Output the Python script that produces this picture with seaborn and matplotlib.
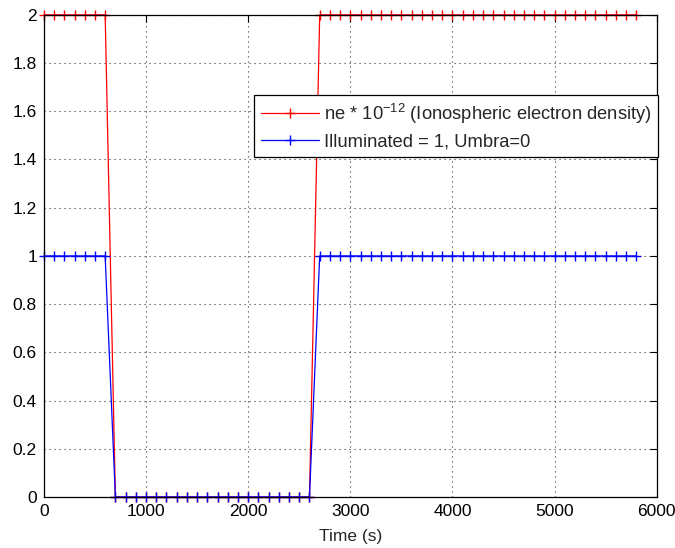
import numpy as np
import pandas as pd
import matplotlib
matplotlib.use("Agg")
import matplotlib.pyplot as plt
import seaborn as sns
from matplotlib.ticker import FuncFormatter

# data (time in seconds)
time_s = list(range(0, 5900, 100))
ne_scaled = [2]*7 + [0]*20 + [2]*32
illuminated = [1]*7 + [0]*20 + [1]*32

label_ne = "ne * 10$^{-12}$ (Ionospheric electron density)"
label_ill = "Illuminated = 1, Umbra=0"
x_ticks = [0, 1000, 2000, 3000, 4000, 5000, 6000]
y_ticks = [0, 0.2, 0.4, 0.6, 0.8, 1, 1.2, 1.4, 1.6, 1.8, 2]

sns.set_style("white")
plt.rcParams['font.family'] = ['Liberation Sans', 'DejaVu Sans']
plt.rcParams['mathtext.default'] = 'regular'

FS = 12.5
LFS = 13.2

fig = plt.figure(figsize=(6.75, 5.48), dpi=100)
ax = fig.add_axes([0.065, 0.093, 0.908, 0.88])

red = (1, 0, 0)
blue = (0, 0, 1)
sns.lineplot(x=time_s, y=ne_scaled, ax=ax, color=red, marker='+',
             markersize=7, markeredgewidth=1.0, markeredgecolor=red,
             markerfacecolor=red, linewidth=0.9, label=label_ne, clip_on=False)
sns.lineplot(x=time_s, y=illuminated, ax=ax, color=blue, marker='+',
             markersize=7, markeredgewidth=1.0, markeredgecolor=blue,
             markerfacecolor=blue, linewidth=0.9, label=label_ill, clip_on=False)

ax.set_xlim(0, 6000)
ax.set_ylim(0, 2)
ax.set_xticks(x_ticks)
ax.set_yticks(y_ticks)
ax.yaxis.set_major_formatter(FuncFormatter(lambda v, p: f"{v:g}"))
ax.xaxis.set_major_formatter(FuncFormatter(lambda v, p: f"{v:g}"))
ax.grid(True, linestyle=(0, (1, 3.5)), color='black', linewidth=0.8, alpha=0.8)
ax.tick_params(direction='in', length=5, width=0.8, top=True, right=True,
               labelsize=FS, colors='black', pad=5)
for s in ax.spines.values():
    s.set_color('black')
    s.set_linewidth(0.9)
ax.set_xlabel("Time (s)", fontsize=FS, labelpad=7)
ax.set_ylabel("")

leg = ax.legend(loc='upper right', bbox_to_anchor=(1.002, 0.833), frameon=True,
                fancybox=False, shadow=False, fontsize=LFS, handlelength=3.2,
                borderpad=0.35, labelspacing=0.4, handletextpad=0.25,
                borderaxespad=0)
leg.get_frame().set_edgecolor('black')
leg.get_frame().set_linewidth(0.9)
leg.get_frame().set_alpha(1)

fig.savefig("out.png", dpi=100, facecolor='white')
